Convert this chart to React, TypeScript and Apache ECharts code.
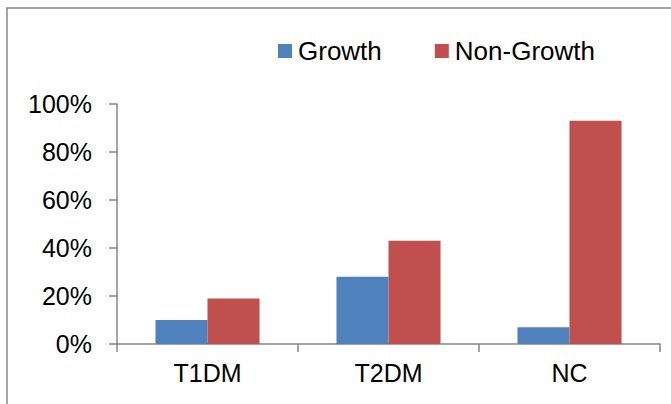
import React, { useEffect, useRef } from "react";
import * as echarts from "echarts";

const categories = ["T1DM", "T2DM", "NC"];
const growth = [10, 28, 7];
const nonGrowth = [19, 43, 93];
const seriesNames = ["Growth", "Non-Growth"];

export default function App() {
  const ref = useRef<HTMLDivElement>(null);
  useEffect(() => {
    if (!ref.current) return;
    const chart = echarts.init(ref.current, null, { renderer: "svg" });
    const font = "'Liberation Sans', Arial, sans-serif";
    chart.setOption({
      animation: false,
      backgroundColor: "#ffffff",
      textStyle: { fontFamily: font },
      graphic: [
        {
          type: "rect",
          shape: { x: 7, y: 8, width: 720, height: 460 },
          style: { fill: "none", stroke: "#8a8a8a", lineWidth: 1.5 },
          silent: true,
          z: -1,
        },
      ],
      legend: {
        left: 278,
        top: 38,
        padding: 0,
        itemWidth: 14,
        itemHeight: 14,
        itemGap: 53,
        icon: "rect",
        textStyle: { fontSize: 26, color: "#000", fontFamily: font, padding: [0, 0, 0, 1] },
        data: seriesNames,
      },
      grid: { left: 117, right: 11, top: 104, bottom: 60, containLabel: false },
      xAxis: {
        type: "category",
        data: categories,
        axisLine: { lineStyle: { color: "#868686", width: 1.5 } },
        axisTick: { show: true, length: 8, alignWithLabel: false, lineStyle: { color: "#868686", width: 1.5 } },
        axisLabel: { fontSize: 25, color: "#000", margin: 16, fontFamily: font },
      },
      yAxis: {
        type: "value",
        min: 0,
        max: 100,
        interval: 20,
        axisLine: { show: true, lineStyle: { color: "#868686", width: 1.5 } },
        axisTick: { show: true, length: 8, lineStyle: { color: "#868686", width: 1.5 } },
        splitLine: { show: false },
        axisLabel: { fontSize: 25, color: "#000", margin: 25, formatter: "{value}%", fontFamily: font },
      },
      series: [
        {
          name: seriesNames[0],
          type: "bar",
          data: growth,
          barGap: "0%",
          barCategoryGap: "42.5%",
          itemStyle: { color: "#4F81BD" },
        },
        {
          name: seriesNames[1],
          type: "bar",
          data: nonGrowth,
          barGap: "0%",
          barCategoryGap: "42.5%",
          itemStyle: { color: "#C0504D" },
        },
      ],
    });
    return () => chart.dispose();
  }, []);
  return (
    <div
      ref={ref}
      style={{ position: "fixed", left: 0, top: 0, width: 671, height: 404 }}
    />
  );
}
